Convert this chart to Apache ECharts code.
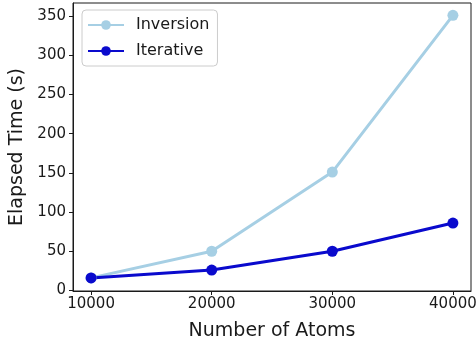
<!DOCTYPE html>
<html>
<head>
<meta charset="utf-8">
<script src="https://cdn.jsdelivr.net/npm/echarts@6/dist/echarts.min.js"></script>
<style>
  html, body { margin: 0; padding: 0; background: #fff; }
  #chart { width: 476px; height: 348px; }
</style>
</head>
<body>
<div id="chart"></div>
<script>
// Elapsed time vs. system size for two solver strategies
const atoms = [10000, 20000, 30000, 40000];
const inversion = [16, 50, 151, 351];
const iterative = [16, 26, 50, 86];
const xTicks = [10000, 20000, 30000, 40000];
const yTicks = [0, 50, 100, 150, 200, 250, 300, 350];

const font = 'DejaVu Sans';
const ink = '#1a1a1a';
const chart = echarts.init(document.getElementById('chart'), null, { renderer: 'canvas' });

const pairs = (xs, ys) => xs.map((x, i) => [x, ys[i]]);

chart.setOption({
  animation: false,
  backgroundColor: '#fff',
  grid: {
    left: 73, right: 5, top: 3, bottom: 57,
    outerBoundsMode: 'none', containLabel: false,
    show: true, borderColor: ink, borderWidth: 1, backgroundColor: 'transparent'
  },
  legend: {
    left: 82, top: 10,
    orient: 'vertical',
    itemWidth: 36, itemHeight: 12, itemGap: 10,
    padding: [7, 8, 7, 5],
    borderColor: '#ccc', borderWidth: 1, borderRadius: 4,
    textStyle: { fontFamily: font, fontSize: 16, color: ink, padding: [0, 0, 0, 7] },
    data: ['Inversion', 'Iterative']
  },
  xAxis: {
    type: 'value', min: 8500, max: 41500,
    name: 'Number of Atoms', nameLocation: 'middle', nameGap: 31,
    nameTextStyle: { fontFamily: font, fontSize: 19, color: ink },
    splitLine: { show: false },
    axisLine: { show: true, onZero: false, lineStyle: { color: ink, width: 1 } },
    axisTick: { show: true, length: 4, customValues: xTicks, lineStyle: { color: ink } },
    axisLabel: {
      customValues: xTicks, fontFamily: font, fontSize: 15, color: ink, margin: 6,
      formatter: v => String(v)
    }
  },
  yAxis: {
    type: 'value', min: -0.7, max: 366.7,
    name: 'Elapsed Time (s)', nameLocation: 'middle', nameGap: 46,
    nameTextStyle: { fontFamily: font, fontSize: 19, color: ink },
    splitLine: { show: false },
    axisLine: { show: true, onZero: false, lineStyle: { color: ink, width: 1 } },
    axisTick: { show: true, length: 4, customValues: yTicks, lineStyle: { color: ink } },
    axisLabel: {
      customValues: yTicks, fontFamily: font, fontSize: 15, color: ink, margin: 7,
      formatter: v => String(v)
    }
  },
  series: [
    {
      name: 'Inversion', type: 'line', data: pairs(atoms, inversion),
      color: '#a6cfe4', symbol: 'circle', symbolSize: 11,
      lineStyle: { width: 3, color: '#a6cfe4' }, itemStyle: { color: '#a6cfe4' }
    },
    {
      name: 'Iterative', type: 'line', data: pairs(atoms, iterative),
      color: '#0a0acd', symbol: 'circle', symbolSize: 11,
      lineStyle: { width: 3, color: '#0a0acd' }, itemStyle: { color: '#0a0acd' }
    }
  ]
});
</script>
</body>
</html>
